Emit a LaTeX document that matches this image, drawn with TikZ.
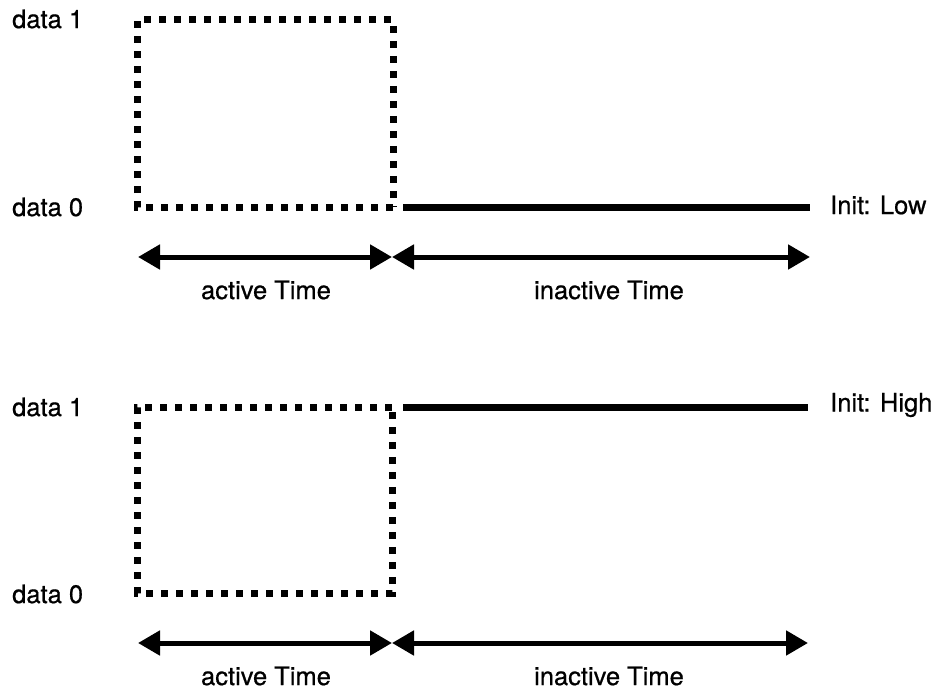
\documentclass[tikz,border=0pt]{standalone}
\usepackage{fontspec}
\setmainfont{TeX Gyre Heros}[FakeBold=0.6]
\usetikzlibrary{arrows.meta}
\begin{document}
\begin{tikzpicture}[x=1pt,y=-1pt,
  lbl/.style={font=\fontsize{25.5}{28}\selectfont, inner sep=0pt},
  dotbox/.style={line width=7pt, dash pattern=on 7pt off 8pt},
  level/.style={line width=7pt},
  span/.style={line width=5pt, {Triangle[length=22pt,width=24pt]}-{Triangle[length=22pt,width=24pt]}}]
\useasboundingbox (0,0) rectangle (940,690);
% panel 1
\coordinate (a1) at (137,20);
\coordinate (a0) at (137,207);
\coordinate (b1) at (393,20);
\coordinate (b0) at (393,207);
\coordinate (s0) at (403,207);
\coordinate (e0) at (810,207);
\draw[dotbox] (b0) -- (a0) -- (a1) -- (b1) -- (b0);
\draw[level] (s0) -- (e0);
\node[lbl, anchor=west] (d1a) at (12,19) {data 1};
\node[lbl, anchor=west] (d0a) at (12,207) {data 0};
\node[lbl, anchor=west] (initL) at (830,205) {Init: Low};
\coordinate (p1) at (138,257);
\coordinate (p2) at (392,257);
\coordinate (p3) at (810,257);
\draw[span] (p1) -- (p2);
\draw[span] (p2) -- (p3);
\node[lbl] (actA) at (266,290) {active Time};
\node[lbl] (inactA) at (609,290) {inactive Time};
% panel 2
\coordinate (c1) at (137,407);
\coordinate (c0) at (137,593);
\coordinate (f1) at (392,407);
\coordinate (f0) at (392,593);
\coordinate (s1) at (403,407);
\coordinate (g1) at (808,407);
\draw[dotbox] (f1) -- (c1) -- (c0) -- (f0) -- (f1);
\draw[level] (s1) -- (g1);
\node[lbl, anchor=west] (d1b) at (12,407) {data 1};
\node[lbl, anchor=west] (d0b) at (12,594) {data 0};
\node[lbl, anchor=west] (initH) at (830,405) {Init: High};
\coordinate (q1) at (138,643);
\coordinate (q2) at (392,643);
\coordinate (q3) at (808,643);
\draw[span] (q1) -- (q2);
\draw[span] (q2) -- (q3);
\node[lbl] (actB) at (266,676) {active Time};
\node[lbl] (inactB) at (609,676) {inactive Time};
\end{tikzpicture}
\end{document}
